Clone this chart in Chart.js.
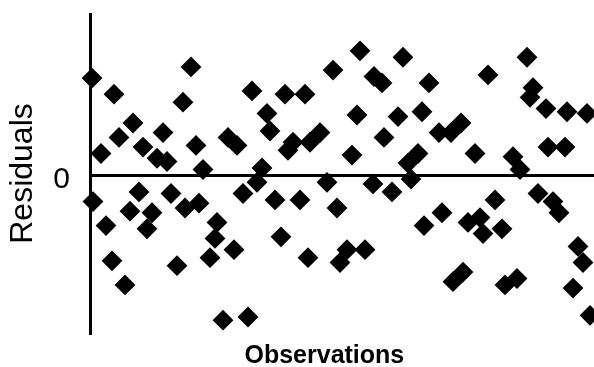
<!DOCTYPE html>
<html>
<head>
<meta charset="utf-8">
<script src="https://cdn.jsdelivr.net/npm/chart.js@4/dist/chart.umd.min.js"></script>
<style>
  html, body { margin: 0; padding: 0; background: #fff; }
  #wrap { width: 594px; height: 367px; }
</style>
</head>
<body>
<div id="wrap"><canvas id="resid" width="594" height="367"></canvas></div>
<script>
const obsX = [
  0.4, 20.2, 4.8, 18.6, 32.4, 8.6, 5.8, 14.6, 10.6, 13.4, 15.4, 21.2, 27.6, 29.4, 2.2, 22.6, 33.4, 0.6,
  9.8, 16.2, 8.0, 12.4, 11.4, 19.0, 21.8, 30.6, 3.2, 25.4, 25.0, 28.8, 24.0, 4.4, 17.4, 7.0, 26.6, 31.6,
  54.0, 62.6, 48.6, 56.8, 58.4, 67.8, 39.0, 43.0, 35.4, 36.0, 53.4, 61.6, 66.4, 58.8, 46.0, 44.0, 40.6,
  39.6, 52.4, 65.6, 63.6, 34.4, 47.4, 56.6, 60.4, 64.2, 37.0, 42.0, 49.4, 66.8, 38.2, 43.6, 51.4, 50.0, 55.0,
  87.4, 79.6, 88.6, 88.0, 91.2, 95.4, 99.4, 74.2, 69.8, 72.2, 77.0, 84.6, 86.0, 91.6, 95.0, 89.6, 92.6,
  93.8, 81.0, 70.4, 75.6, 78.0, 78.6, 82.4, 97.6, 98.6, 74.6, 72.6, 85.4, 83.0, 96.6, 100.0
];
const residY = [
  6.1, 6.8, 5.1, 4.6, 5.3, 3.3, 2.4, 2.7, 1.8, 1.1, 0.9, 1.9, 2.4, 1.9, 1.4, 0.4, -0.4, -1.6,
  -1.0, -1.1, -2.2, -2.3, -3.3, -2.0, -1.7, -1.1, -3.1, -2.9, -3.9, -4.6, -5.1, -5.3, -5.6, -6.8, -9.0, -8.8,
  7.8, 7.4, 6.6, 6.2, 5.8, 5.8, 5.1, 5.1, 3.9, 2.8, 3.8, 3.7, 4.0, 2.4, 2.7, 2.1, 2.1,
  1.6, 1.3, 1.4, 0.8, 0.5, -0.4, -0.5, -1.0, -0.2, -1.5, -1.5, -2.0, -3.1, -3.8, -5.1, -4.6, -5.4, -4.6,
  7.4, 6.3, 5.5, 4.9, 4.2, 4.0, 3.9, 3.3, 2.7, 2.7, 1.4, 1.2, 0.4, 1.8, 1.8, -1.1, -1.6,
  -2.3, -1.5, -2.3, -2.9, -2.6, -3.6, -3.3, -4.4, -5.4, -6.0, -6.6, -6.4, -6.8, -7.0, -8.7
];
const yTicks = [0];
const xTitle = 'Observations';
const yTitle = 'Residuals';

const points = obsX.map((x, i) => ({ x: x, y: residY[i] }));

// x axis title sits a little left of the plot centre in the original
const xTitlePlugin = {
  id: 'xTitle',
  afterDraw(chart) {
    const ctx = chart.ctx;
    const area = chart.chartArea;
    ctx.save();
    ctx.font = 'bold 25px "Liberation Sans", Arial, sans-serif';
    ctx.fillStyle = '#000';
    ctx.textAlign = 'center';
    ctx.textBaseline = 'middle';
    ctx.fillText(xTitle, area.left + area.width * 0.465, 356);
    ctx.restore();
  }
};

new Chart(document.getElementById('resid'), {
  type: 'scatter',
  data: {
    datasets: [{
      data: points,
      pointStyle: 'rectRot',
      pointRadius: 9,
      pointBorderWidth: 2,
      backgroundColor: '#000',
      borderColor: '#000',
      clip: false
    }]
  },
  options: {
    responsive: false,
    animation: false,
    layout: { autoPadding: false, padding: { top: 14, right: 0, bottom: 34, left: 0 } },
    plugins: { legend: { display: false }, tooltip: { enabled: false } },
    scales: {
      x: {
        type: 'linear',
        min: 0,
        max: 100.8,
        display: false
      },
      y: {
        min: -9.8,
        max: 10.1,
        afterBuildTicks: axis => { axis.ticks = yTicks.map(v => ({ value: v })); },
        afterFit: axis => {
          axis.width = 90;
          axis.paddingTop = 0;
          axis.paddingBottom = 0;
        },
        border: { display: true, color: '#000', width: 3 },
        grid: { color: '#000', lineWidth: 3, drawTicks: false },
        ticks: {
          color: '#000',
          padding: 20,
          labelOffset: 4,
          font: { family: '"Liberation Sans", Arial, sans-serif', size: 30 }
        },
        title: {
          display: true,
          text: yTitle,
          color: '#000',
          padding: { top: 4, bottom: 0 },
          font: { family: '"Liberation Sans", Arial, sans-serif', size: 32 }
        }
      }
    }
  },
  plugins: [xTitlePlugin]
});
</script>
</body>
</html>
